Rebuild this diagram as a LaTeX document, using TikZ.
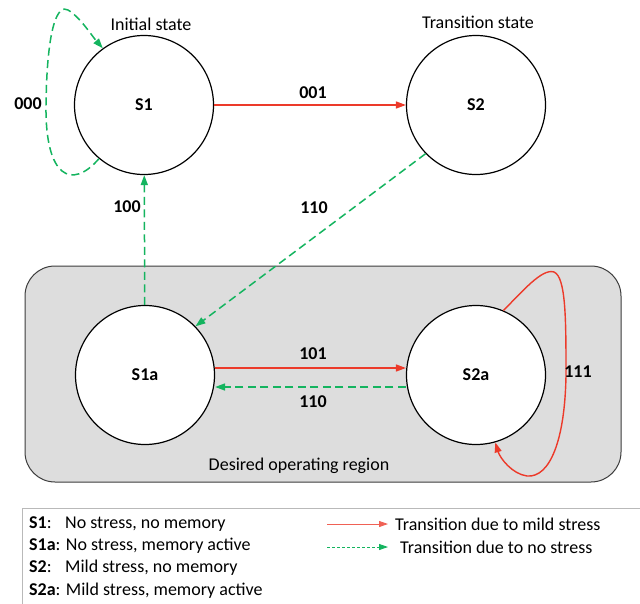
\documentclass[tikz,border=0pt]{standalone}
\usepackage{fontspec}
\setmainfont{Carlito}
\usetikzlibrary{arrows.meta}
\definecolor{tred}{RGB}{236,58,42}
\definecolor{tgreen}{RGB}{20,180,95}
\definecolor{regionfill}{RGB}{221,221,221}
\definecolor{regionline}{RGB}{60,60,60}
\definecolor{legendline}{RGB}{185,185,185}
\tikzset{
  txt/.style={font=\fontsize{18}{21.6}\selectfont, inner sep=0pt},
  lbl/.style={txt, font=\fontsize{18}{21.6}\selectfont\bfseries},
  state/.style={circle, draw=black, line width=1.2pt, fill=white,
    minimum size=139pt, inner sep=0pt, font=\fontsize{18}{21.6}\selectfont\bfseries},
  tip/.style={-{Triangle[length=10pt,width=7pt]}},
  mild/.style={tip, draw=tred, line width=1.4pt},
  nostress/.style={tip, draw=tgreen, line width=1.5pt, dash pattern=on 8pt off 4.5pt},
}
\begin{document}
\begin{tikzpicture}[x=1pt, y=-1pt]
\useasboundingbox (0,0) rectangle (640,603);
\clip (0,0) rectangle (640,603);
\fill[white] (0,0) rectangle (640,603);

% operating region
\draw[fill=regionfill, draw=regionline, line width=1pt, rounded corners=30pt]
  (25,266) rectangle (621,482);
\node[txt] (regionlbl) at (299,466) {Desired operating region};

% states
\node[state] (s1)  at (144,105) {S1};
\node[state] (s2)  at (476,105) {S2};
\node[state] (s1a) at (145,375) {S1a};
\node[state] (s2a) at (476,375) {S2a};

\node[txt] (initlbl)  at (151,24) {Initial state};
\node[txt] (translbl) at (478,22) {Transition state};

% transitions (yshift is in canvas units: positive moves up)
\draw[mild] ([yshift=7pt]s1a.east) -- ([yshift=7pt]s2a.west);
\draw[mild] (s1) -- (s2);
\draw[nostress] ([yshift=-12pt]s2a.west) -- ([yshift=-12pt]s1a.east);
\draw[nostress] (s1a) -- (s1);
\draw[nostress] (s2.224) -- (s1a.44);

% self loops
\draw[nostress] (s1.230) .. controls (72,190) and (45,178) .. (46,105)
  .. controls (47,25) and (58,4) .. (68,10)
  .. controls (80,17) and (92,36) .. (s1.126);
\draw[mild] (s2a.67) .. controls (522,292) and (542,268) .. (554,272)
  .. controls (566,277) and (566,320) .. (566,375)
  .. controls (565,440) and (550,478) .. (527,476)
  .. controls (512,474) and (500,458) .. (s2a.-74);

% transition codes
\node[lbl] (c000) at (28,104) {000};
\node[lbl] (c001) at (313,93) {001};
\node[lbl] (c100) at (127,207) {100};
\node[lbl] (c110a) at (314,208) {110};
\node[lbl] (c101) at (313,354) {101};
\node[lbl] (c110b) at (313,402) {110};
\node[lbl] (c111) at (578,372) {111};

% legend
\draw[draw=legendline, line width=1pt] (22,508) rectangle (660,620);
\node[txt, anchor=west] (l1) at (29,524) {\makebox[36pt][l]{\textbf{S1}:}No stress, no memory};
\node[txt, anchor=west] (l2) at (29,546) {\textbf{S1a}: No stress, memory active};
\node[txt, anchor=west] (l3) at (29,568) {\makebox[36pt][l]{\textbf{S2}:}Mild stress, no memory};
\node[txt, anchor=west] (l4) at (29,591) {\textbf{S2a}: Mild stress, memory active};

\coordinate (ra) at (327,524);
\coordinate (rb) at (388,524);
\coordinate (ga) at (327,547);
\coordinate (gb) at (388,547);
\draw[draw=tred!80, line width=0.8pt, -{Triangle[length=9pt,width=6pt]}] (ra) -- (rb);
\draw[draw=tgreen, line width=0.8pt, dash pattern=on 3pt off 2pt,
  -{Triangle[length=9pt,width=6pt]}] (ga) -- (gb);
\node[txt, anchor=west] (lm) at (395,524) {Transition due to mild stress};
\node[txt, anchor=west] (ln) at (400,547) {Transition due to no stress};
\end{tikzpicture}
\end{document}
